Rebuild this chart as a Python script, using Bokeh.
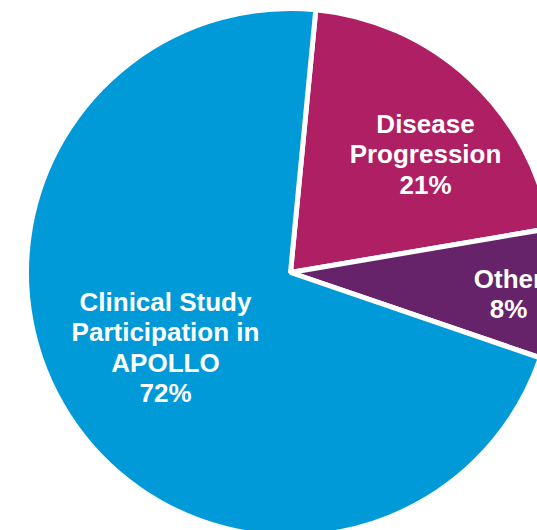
import math
from bokeh.plotting import figure
from bokeh.models import Range1d, ColumnDataSource
from bokeh.core.properties import value
from bokeh.embed import file_html
from bokeh.resources import INLINE

# data
categories = ["Disease Progression", "Other", "Clinical Study Participation in APOLLO"]
values = [21, 8, 72]
label_lines = [["Disease", "Progression", "21%"],
               ["Other", "8%"],
               ["Clinical Study", "Participation in", "APOLLO", "72%"]]
colors = ["#AE1F63", "#66236A", "#009AD9"]

# layout
W, H = 537, 530
cx, cy = 290, H - 272
radius = 264
start_deg = 84.5
label_anchor = [(425, 123), (508, 278), (165, 301)]  # x centre, first line centre (from top)
line_step = 30.5

total = sum(values)
starts, ends = [], []
a = math.radians(start_deg)
for v in values:
    span = 2 * math.pi * v / total
    starts.append(a)
    ends.append(a - span)
    a -= span

src = ColumnDataSource(dict(start=starts, end=ends, color=colors, cat=categories))

p = figure(width=W, height=H, output_backend="svg", toolbar_location=None,
           x_range=Range1d(0, W), y_range=Range1d(0, H), min_border=0)
p.axis.visible = False
p.grid.visible = False
p.outline_line_color = None
p.background_fill_color = "white"

p.wedge(x=cx, y=cy, radius=radius, start_angle="start", end_angle="end",
        direction="clock", fill_color="color", line_color="white", line_width=5,
        source=src)

tx, ty, tt = [], [], []
for (ax, ay), lines in zip(label_anchor, label_lines):
    for i, s in enumerate(lines):
        tx.append(ax)
        ty.append(H - (ay + i * line_step))
        tt.append(s)

lsrc = ColumnDataSource(dict(x=tx, y=ty, text=tt))
p.text(x="x", y="y", text="text", source=lsrc, text_color="white",
       text_font=value("Liberation Sans"), text_font_style="bold",
       text_font_size="26px", text_align="center", text_baseline="middle")

open("out.html", "w").write(file_html(p, INLINE))
